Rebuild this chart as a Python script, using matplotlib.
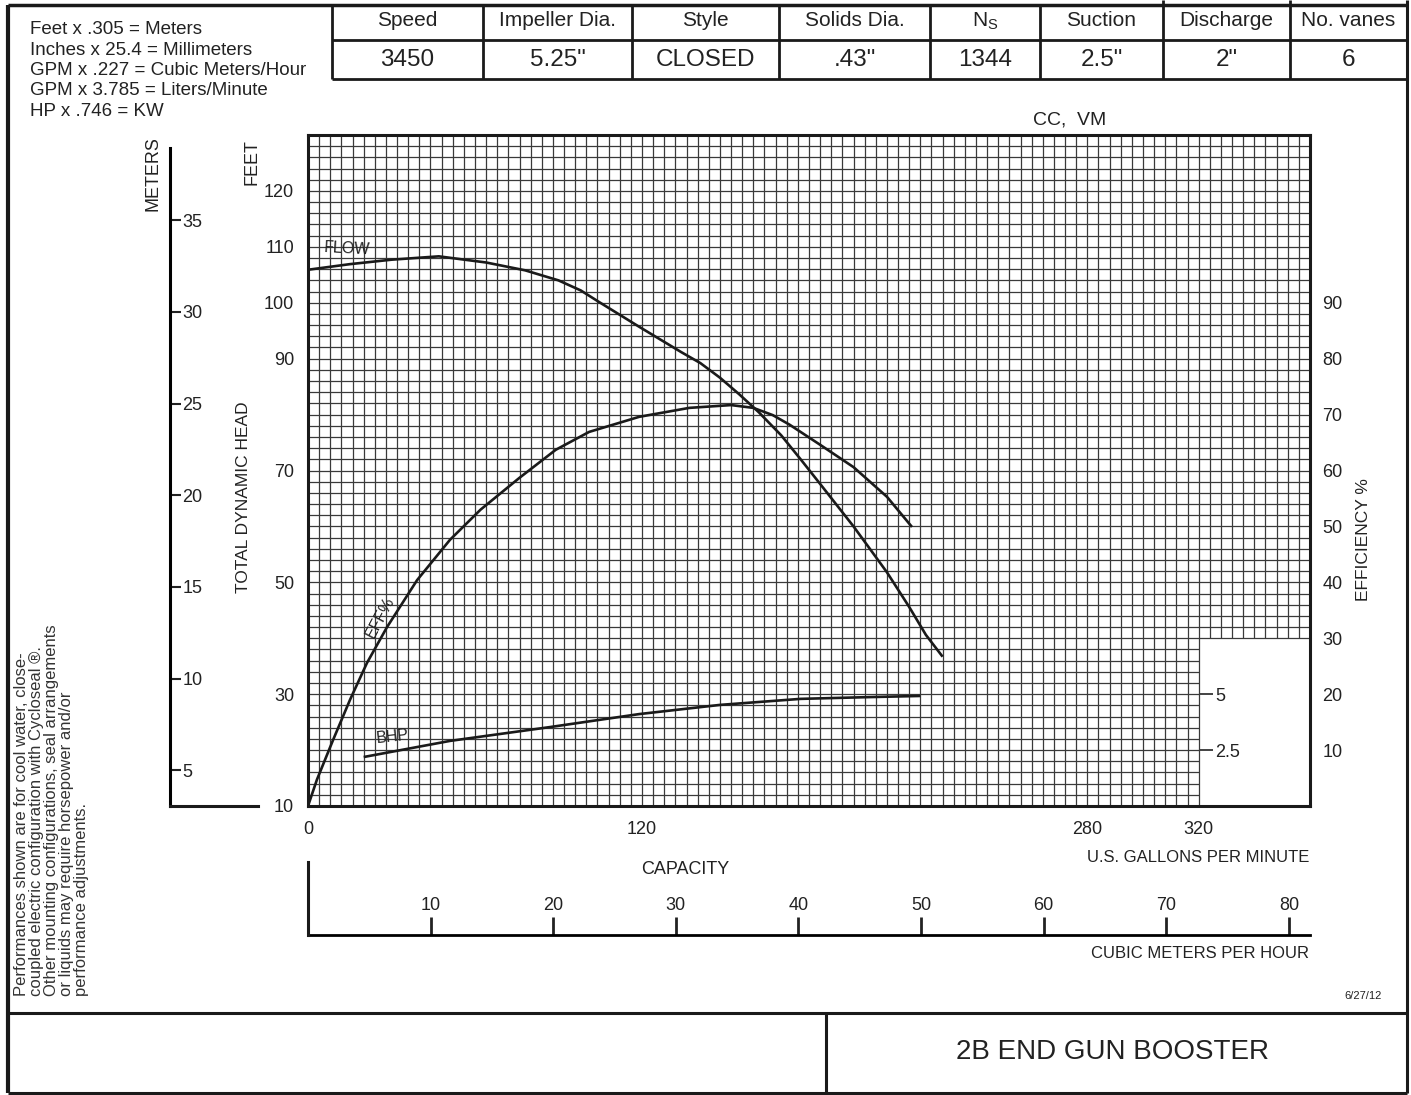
import matplotlib.pyplot as plt
import numpy as np
from matplotlib.lines import Line2D

plt.rcParams['font.family'] = ['Liberation Sans', 'DejaVu Sans']

head_gpm = [0, 15, 30, 47, 64, 78, 90, 98, 105, 119, 134, 141, 148, 155, 162, 170, 177, 184, 196, 208, 216,
            222, 228]
head_ft = [105.9, 106.9, 107.7, 108.3, 107.2, 105.8, 104.0, 102.2, 100.0, 95.7, 91.2, 89.2, 86.6, 83.6, 80.4,
           76.3, 72.0, 67.6, 60.0, 51.8, 45.6, 40.6, 36.7]

eff_gpm = [0, 3.2, 9.0, 15.1, 21.2, 28.4, 39.2, 51, 62, 76, 89, 101, 119, 137, 152, 160, 167, 173, 184, 196,
           208, 217]
eff_pct = [0, 4.7, 11.8, 19.0, 25.6, 32.0, 40.4, 47.6, 53.0, 58.7, 63.7, 66.9, 69.6, 71.2, 71.7, 71.2, 69.9,
           68.2, 64.6, 60.6, 55.3, 49.9]

bhp_gpm = [20, 51, 87, 119, 148, 177, 202, 220]
bhp_hp = [2.19, 2.91, 3.53, 4.11, 4.52, 4.79, 4.87, 4.92]

feet_ticks = [10, 30, 50, 70, 90, 100, 110, 120]
gpm_ticks = [0, 120, 280, 320]
eff_ticks = [10, 20, 30, 40, 50, 60, 70, 80, 90]
meter_ticks = [5, 10, 15, 20, 25, 30, 35]
m3h_ticks = [10, 20, 30, 40, 50, 60, 70, 80]
hp_ticks = [2.5, 5]
hp_labels = ['2.5', '5']

header_cols = ['Speed', 'Impeller Dia.', 'Style', 'Solids Dia.', r'N$_\mathregular{S}$', 'Suction',
               'Discharge', 'No. vanes']
header_vals = ['3450', '5.25"', 'CLOSED', '.43"', '1344', '2.5"', '2"', '6']

conversions = ['Feet x .305 = Meters', 'Inches x 25.4 = Millimeters', 'GPM x .227 = Cubic Meters/Hour',
               'GPM x 3.785 = Liters/Minute', 'HP x .746 = KW']
disclaimer = ('Performances shown are for cool water, close-\n'
              'coupled electric configuration with Cycloseal \u00ae.\n'
              'Other mounting configurations, seal arrangements\n'
              'or liquids may require horsepower and/or\n'
              'performance adjustments.')


# scale conversions between the sheet's axes
def ft2m(v):
    return np.asarray(v) * 0.305


def m2ft(v):
    return np.asarray(v) / 0.305


def ft2eff(v):
    return np.asarray(v) - 10.0


def eff2ft(v):
    return np.asarray(v) + 10.0


def ft2hp(v):
    return (np.asarray(v) - 10.0) / 4.0


def hp2ft(v):
    return np.asarray(v) * 4.0 + 10.0


def gpm2m3h(v):
    return np.asarray(v) * 0.227


def m3h2gpm(v):
    return np.asarray(v) / 0.227


W, H = 1411, 1095
fig = plt.figure(figsize=(W / 100, H / 100), dpi=100)


def fx(x):
    return x / W


def fy(y):
    return 1 - y / H


def pline(xs, ys, lw=2.0):
    fig.add_artist(Line2D([fx(x) for x in xs], [fy(y) for y in ys], transform=fig.transFigure,
                          color='#1a1a1a', lw=lw, solid_capstyle='butt'))


# main grid axes
x0, x1, y0, y1 = 308, 1310, 135, 806
ax = fig.add_axes([fx(x0), fy(y1), fx(x1) - fx(x0), fy(y0) - fy(y1)])
ax.set_xlim(0, 360)
ax.set_ylim(10, 130)

grid_kw = dict(color='#3a3a3a', lw=0.9, zorder=1)
for gx in np.arange(4, 360, 4):
    ax.vlines(gx, 10 if gx <= 320 else 40, 130, **grid_kw)
for gy in np.arange(12, 130, 2):
    ax.hlines(gy, 0, 360 if gy >= 40 else 320, **grid_kw)

for s in ax.spines.values():
    s.set_linewidth(2.2)
    s.set_color('#1a1a1a')

ax.set_yticks(feet_ticks)
ax.set_xticks(gpm_ticks)
ax.tick_params(axis='both', length=0, labelsize=13, colors='#222222')
ax.tick_params(axis='y', pad=10)
ax.tick_params(axis='x', pad=11)

curve_kw = dict(color='#1a1a1a', lw=1.9, zorder=3, solid_capstyle='butt', solid_joinstyle='round')
ax.plot(head_gpm, head_ft, **curve_kw)
ax.plot(eff_gpm, eff2ft(eff_pct), **curve_kw)
ax.plot(bhp_gpm, hp2ft(bhp_hp), **curve_kw)

ax.text(14, 109.6, 'FLOW', fontsize=11.5, rotation=-3, ha='center', va='center', color='#222222', zorder=4)
ax.text(25.9, 43.8, 'EFF%', fontsize=11.5, rotation=62, ha='center', va='center', color='#222222', zorder=4)
ax.text(30.5, 22.4, 'BHP', fontsize=11.5, rotation=6, ha='center', va='center', color='#222222', zorder=4)

# efficiency scale on the right
ax_eff = ax.secondary_yaxis('right', functions=(ft2eff, eff2ft))
ax_eff.set_yticks(eff_ticks)
ax_eff.tick_params(length=0, labelsize=13, pad=9, colors='#222222')
ax_eff.spines['right'].set_visible(False)

# horsepower scale inside the cut-out
ax_hp = ax.secondary_yaxis(320 / 360, functions=(ft2hp, hp2ft))
ax_hp.set_yticks(hp_ticks, labels=hp_labels)
ax_hp.tick_params(length=10, width=1.2, labelsize=13, pad=2, colors='#222222')
ax_hp.spines['right'].set_visible(False)

# meters scale on the left
ax_m = ax.secondary_yaxis((170 - x0) / (x1 - x0), functions=(ft2m, m2ft))
ax_m.set_alignment('right')
ax_m.set_yticks(meter_ticks)
ax_m.tick_params(length=8, width=1.5, labelsize=13, pad=1, colors='#222222')
ax_m.spines['right'].set_linewidth(2.2)
ax_m.spines['right'].set_bounds(ft2m(10), ft2m(127.7))
ax.plot([(170 - x0) / (x1 - x0), (258 - x0) / (x1 - x0)], [0, 0], transform=ax.transAxes,
        clip_on=False, color='#1a1a1a', lw=2.2)

# cubic meters per hour scale below
m3_pos = (y1 - 935) / (y1 - y0)
ax_q = ax.secondary_xaxis(m3_pos, functions=(gpm2m3h, m3h2gpm))
ax_q.set_alignment('top')
ax_q.set_xticks(m3h_ticks)
ax_q.tick_params(length=13, width=2, labelsize=13, pad=2, colors='#222222')
ax_q.spines['top'].set_linewidth(2)
ax.plot([0, 0], [m3_pos, (y1 - 862) / (y1 - y0)], transform=ax.transAxes, clip_on=False,
        color='#1a1a1a', lw=2.2)

# axis titles
tkw = dict(color='#222222', ha='center', va='center')
fig.text(fx(1070), fy(120), 'CC,  VM', fontsize=14, **tkw)
fig.text(fx(243), fy(497), 'TOTAL DYNAMIC HEAD', fontsize=12.5, rotation=90, **tkw)
fig.text(fx(252), fy(162), 'FEET', fontsize=13, rotation=90, **tkw)
fig.text(fx(153), fy(174), 'METERS', fontsize=13, rotation=90, **tkw)
fig.text(fx(1363), fy(540), 'EFFICIENCY %', fontsize=12.5, rotation=90, **tkw)
fig.text(fx(685), fy(870), 'CAPACITY', fontsize=13, **tkw)
fig.text(fx(1309), fy(857), 'U.S. GALLONS PER MINUTE', fontsize=12, color='#222222', ha='right', va='center')
fig.text(fx(1309), fy(953), 'CUBIC METERS PER HOUR', fontsize=12, color='#222222', ha='right', va='center')
fig.text(fx(1382), fy(996), '6/27/12', fontsize=8, color='#222222', ha='right', va='center')
fig.text(fx(1113), fy(1052), '2B END GUN BOOSTER', fontsize=20, **tkw)

# conversion notes
for i, line in enumerate(conversions):
    fig.text(fx(30), fy(30 + 20.3 * i), line, fontsize=13.5, color='#222222', ha='left', va='center')

fig.text(fx(14), fy(996), disclaimer, fontsize=12, rotation=90, color='#333333', ha='left', va='bottom',
         linespacing=1.0)

# pump data table
col_edges = [332, 483, 632, 779, 930, 1040, 1163, 1290, 1407]
for i in range(len(header_cols)):
    cx = (col_edges[i] + col_edges[i + 1]) / 2
    fig.text(fx(cx), fy(21), header_cols[i], fontsize=15, **tkw)
    fig.text(fx(cx), fy(60), header_vals[i], fontsize=17.5, **tkw)
pline([332, 1407], [40, 40])
pline([332, 1407], [79, 79])
for e in col_edges[:-1]:
    top = 0 if e in (1163, 1290) else 5
    pline([e, e], [top, 79])

# page frame and title block
pline([8, 1407], [5, 5], lw=2.5)
pline([8, 8], [5, 1093], lw=3)
pline([1407, 1407], [0, 1093], lw=2.2)
pline([8, 1407], [1093, 1093], lw=2.2)
pline([8, 1407], [1013, 1013], lw=2.2)
pline([826, 826], [1013, 1093], lw=2.2)

fig.savefig('out.png', dpi=100)
